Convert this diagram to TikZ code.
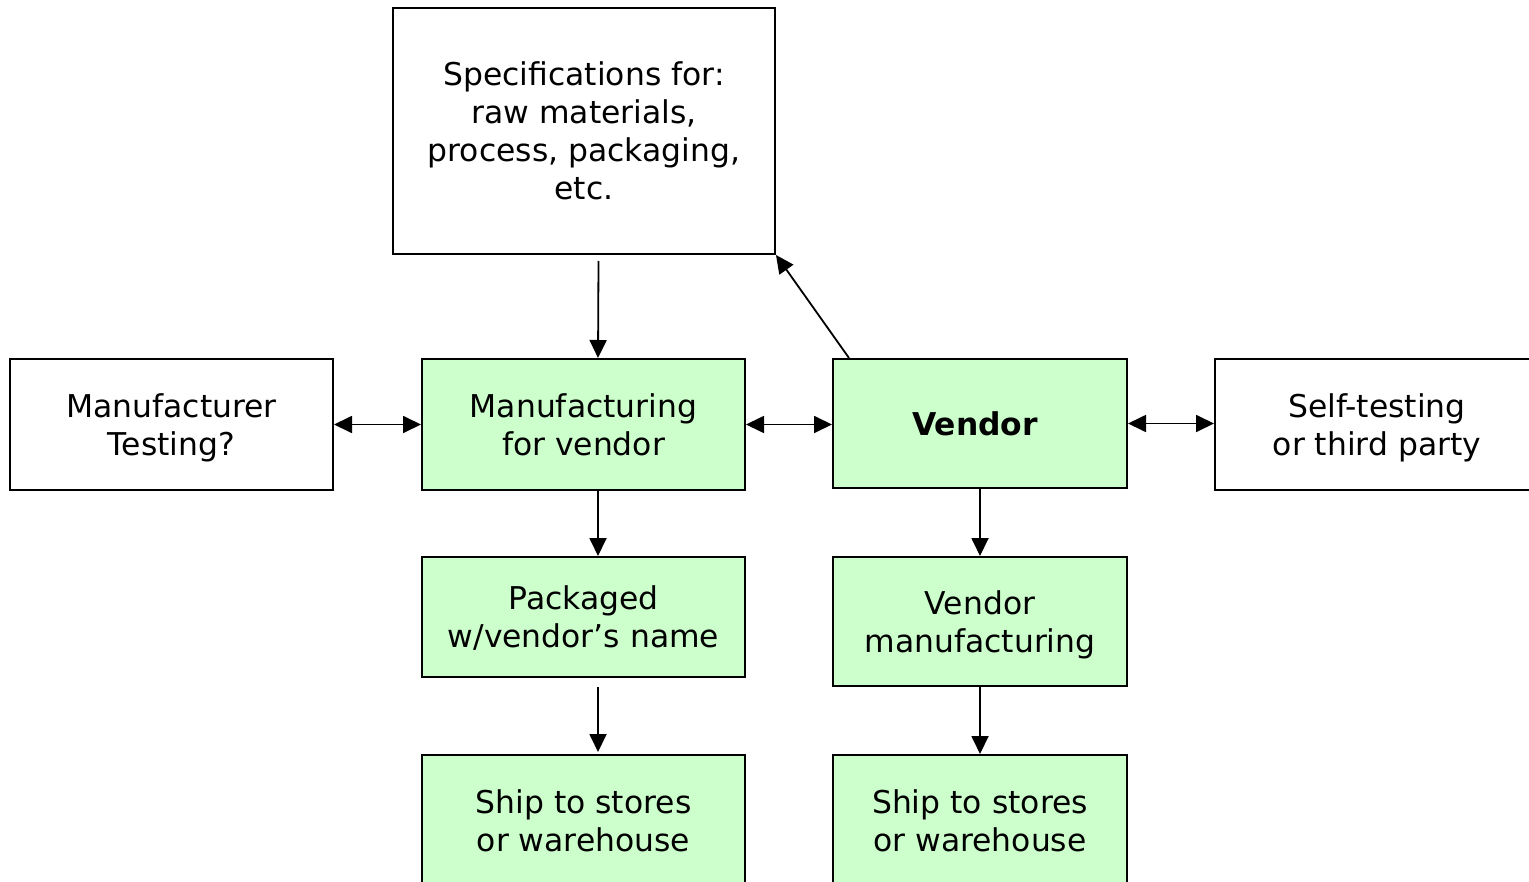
\documentclass[tikz,border=0pt]{standalone}
\usepackage{fontspec}
\setmainfont{DejaVu Sans}
\definecolor{boxgreen}{RGB}{204, 255, 204}
\usetikzlibrary{arrows.meta, positioning}

\begin{document}
\begin{tikzpicture}[x=0.5pt, y=-0.5pt,
    every node/.style={font=\fontsize{15.7}{19}\selectfont, text depth=-1pt},
    plainbox/.style={draw=black, line width=1pt, fill=white, align=center, inner sep=0pt},
    greenbox/.style={plainbox, fill=boxgreen},
    flow/.style={line width=0.9pt, -{Triangle[length=9pt, width=8.5pt]}},
    twoway/.style={line width=0.9pt, {Triangle[length=9pt, width=8.5pt]}-{Triangle[length=9pt, width=8.5pt]}}]
  \useasboundingbox (0,0) rectangle (1529,882);

  % Top: specifications
  \node[plainbox, minimum width=191pt, minimum height=123pt] (spec) at (584, 131) {
    Specifications for:\\raw materials,\\process, packaging,\\etc.
  };

  % Middle row
  \node[plainbox, minimum width=161.5pt, minimum height=65.5pt] (mfgtest) at (171.5, 424.5) {
    Manufacturer\\Testing?
  };
  \node[greenbox, minimum width=161.5pt, minimum height=65.5pt] (mfg) at (583.5, 424.5) {
    Manufacturing\\for vendor
  };
  \node[greenbox, minimum width=147pt, minimum height=64.5pt] (vendor) at (980, 423.5) {
    \textbf{Vendor}
  };
  \node[plainbox, minimum width=162pt, minimum height=65.5pt] (selftest) at (1377, 424.5) {
    Self-testing\\or third party
  };

  % Left column
  \node[greenbox, minimum width=161.5pt, minimum height=60pt] (packaged) at (583.5, 617) {
    Packaged\\w/vendor’s name
  };
  \node[greenbox, minimum width=161.5pt, minimum height=66pt] (shipleft) at (583.5, 821) {
    Ship to stores\\or warehouse
  };

  % Right column
  \node[greenbox, minimum width=147pt, minimum height=64.5pt] (vendmfg) at (980, 621.5) {
    Vendor\\manufacturing
  };
  \node[greenbox, minimum width=147pt, minimum height=66pt] (shipright) at (980, 821) {
    Ship to stores\\or warehouse
  };

  % Connectors
  \draw[flow] ([xshift=7.25pt, yshift=-3pt]spec.south) -- ([xshift=7.25pt]mfg.north);
  \draw[flow] ([xshift=7.25pt]mfg.south) -- ([xshift=7.25pt]packaged.north);
  \draw[flow] ([xshift=7.25pt, yshift=-4.5pt]packaged.south) -- ([xshift=7.25pt, yshift=1pt]shipleft.north);
  \draw[flow] (vendor.south) -- (vendmfg.north);
  \draw[flow] (vendmfg.south) -- (shipright.north);
  \draw[flow] ([xshift=8.5pt]vendor.north west) -- (spec.south east);
  \draw[twoway] (mfgtest.east) -- (mfg.west);
  \draw[twoway] (mfg.east) -- (mfg.east -| vendor.west);
  \draw[twoway] (vendor.east) -- (vendor.east -| selftest.west);
\end{tikzpicture}
\end{document}
